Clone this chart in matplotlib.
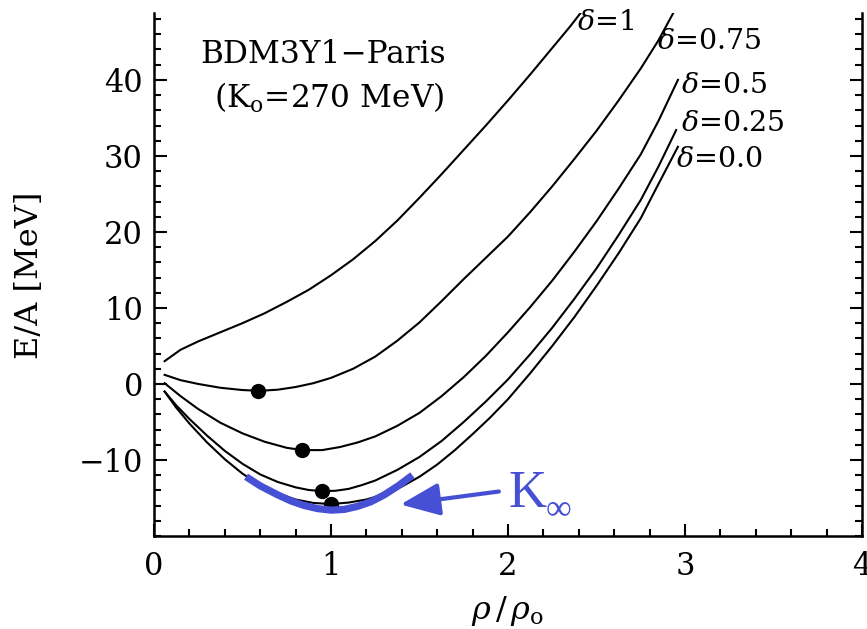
import matplotlib
matplotlib.use("Agg")
import matplotlib.pyplot as plt
from matplotlib.patches import FancyArrowPatch, ArrowStyle
from matplotlib.ticker import MultipleLocator

plt.rcParams['font.family'] = ['DejaVu Serif']
plt.rcParams['mathtext.fontset'] = 'dejavuserif'

# Energy per nucleon E/A [MeV] versus rho/rho0 for several asymmetries delta
x_d100 = [0.06, 0.15, 0.25, 0.375, 0.5, 0.625, 0.75, 0.875, 1.0, 1.125, 1.25,
          1.375, 1.5, 1.625, 1.75, 1.875, 2.0, 2.125, 2.25, 2.35, 2.45]
y_d100 = [3.0, 4.5, 5.6, 6.8, 8.0, 9.3, 10.8, 12.4, 14.3, 16.4, 18.8,
          21.5, 24.5, 27.6, 30.8, 34.0, 37.3, 40.7, 44.2, 47.0, 50.0]

x_d075 = [0.06, 0.15, 0.25, 0.375, 0.5, 0.6, 0.7, 0.8, 0.9, 1.0, 1.125, 1.25,
          1.375, 1.5, 1.625, 1.75, 1.875, 2.0, 2.125, 2.25, 2.375, 2.5, 2.625,
          2.75, 2.85, 2.95]
y_d075 = [1.2, 0.5, 0.0, -0.5, -0.8, -0.9, -0.75, -0.4, 0.1, 0.8, 2.0, 3.6,
          5.7, 8.1, 10.9, 13.8, 16.6, 19.4, 22.6, 26.0, 29.6, 33.3, 37.3,
          41.5, 45.2, 49.5]

x_d050 = [0.06, 0.15, 0.25, 0.375, 0.5, 0.625, 0.75, 0.84, 0.95, 1.05, 1.15,
          1.25, 1.375, 1.5, 1.625, 1.75, 1.875, 2.0, 2.125, 2.25, 2.375, 2.5,
          2.625, 2.75, 2.85, 2.96]
y_d050 = [0.1, -1.6, -3.3, -5.1, -6.5, -7.6, -8.4, -8.7, -8.7, -8.3, -7.7,
          -6.9, -5.5, -3.8, -1.6, 0.9, 3.7, 6.8, 10.1, 13.6, 17.4, 21.4,
          25.7, 30.2, 34.6, 40.0]

x_d025 = [0.06, 0.125, 0.2, 0.3, 0.4, 0.5, 0.6, 0.7, 0.8, 0.875, 0.95, 1.025,
          1.1, 1.175, 1.25, 1.375, 1.5, 1.625, 1.75, 1.875, 2.0, 2.125, 2.25,
          2.375, 2.5, 2.625, 2.75, 2.85, 2.95]
y_d025 = [-1.0, -2.8, -4.6, -6.8, -8.8, -10.5, -11.9, -12.9, -13.6, -13.95,
          -14.1, -14.05, -13.8, -13.3, -12.7, -11.3, -9.6, -7.5, -5.0, -2.3,
          0.6, 3.9, 7.4, 11.2, 15.2, 19.6, 24.2, 28.6, 33.4]

x_d000 = [0.06, 0.125, 0.2, 0.3, 0.4, 0.5, 0.6, 0.7, 0.8, 0.9, 1.0, 1.1, 1.2,
          1.3, 1.4, 1.5, 1.6, 1.7, 1.8, 1.9, 2.0, 2.125, 2.25, 2.375, 2.5,
          2.625, 2.75, 2.85, 2.96]
y_d000 = [-1.0, -3.1, -5.2, -7.7, -9.9, -11.8, -13.3, -14.4, -15.2, -15.65,
          -15.8, -15.6, -15.2, -14.5, -13.5, -12.2, -10.6, -8.7, -6.6, -4.4,
          -2.0, 1.4, 5.0, 8.8, 12.9, 17.2, 21.8, 26.3, 31.2]

# saturation points (minima)
x_sat = [0.59, 0.835, 0.95, 1.0]
y_sat = [-0.9, -8.7, -14.1, -15.8]

# curvature region near the symmetric-matter minimum
x_k = [0.52, 0.6, 0.7, 0.775, 0.85, 0.925, 1.0, 1.075, 1.15, 1.225, 1.3, 1.38, 1.46]
y_k = [-12.2, -13.4, -14.6, -15.4, -16.0, -16.4, -16.6, -16.5, -16.1, -15.5,
       -14.6, -13.4, -12.0]

curve_labels = [r'$\delta$=1', r'$\delta$=0.75', r'$\delta$=0.5', r'$\delta$=0.25', r'$\delta$=0.0']
label_x = [2.39, 2.84, 2.98, 2.98, 2.95]
label_y = [47.6, 45.0, 39.3, 34.3, 29.5]

BLUE = '#4650d4'

fig = plt.figure(figsize=(8.67, 6.29), dpi=100)
ax = fig.add_axes([154 / 867, 93 / 629, 708 / 867, 523 / 629])

curves = [(x_d100, y_d100), (x_d075, y_d075), (x_d050, y_d050),
          (x_d025, y_d025), (x_d000, y_d000)]
for xs, ys in curves:
    ax.plot(xs, ys, color='black', lw=1.5, solid_joinstyle='round')

ax.plot(x_sat, y_sat, 'o', color='black', ms=10, zorder=4)
ax.plot(x_k, y_k, color=BLUE, lw=5.2, solid_capstyle='butt',
        solid_joinstyle='round', zorder=5)

for txt, lx, ly in zip(curve_labels, label_x, label_y):
    ax.text(lx, ly, txt, fontsize=20.5, ha='left', va='center')

ax.text(0.955, 43.4, 'BDM3Y1\u2212Paris', fontsize=22.5, ha='center', va='center')
ax.text(0.99, 37.6, r'(K$_{\mathrm{o}}$=270 MeV)', fontsize=22.5, ha='center', va='center')

# arrow pointing to the curvature region
arrow = FancyArrowPatch((1.964, -14.1), (1.377, -15.9),
                        arrowstyle=ArrowStyle('-|>', head_length=24, head_width=10),
                        mutation_scale=1, lw=3, color=BLUE, zorder=6)
ax.add_patch(arrow)
ax.text(2.0, -16.2, 'K', fontsize=38, color=BLUE, family='Liberation Serif',
        ha='left', va='baseline')
ax.text(2.21, -17.6, '\u221e', fontsize=26, color=BLUE, family='Liberation Serif',
        ha='left', va='baseline')

ax.set_xlim(0, 4)
ax.set_ylim(-20, 48.8)
ax.xaxis.set_major_locator(MultipleLocator(1))
ax.xaxis.set_minor_locator(MultipleLocator(0.2))
ax.yaxis.set_minor_locator(MultipleLocator(2))
ax.set_yticks([-10, 0, 10, 20, 30, 40])
ax.set_yticklabels(['\u221210', '0', '10', '20', '30', '40'])
ax.tick_params(which='both', direction='in', right=True, top=False, width=1.5)
ax.tick_params(which='major', length=9, labelsize=22)
ax.tick_params(which='minor', length=5)
ax.tick_params(axis='x', which='major', pad=11)
ax.tick_params(axis='y', which='major', pad=8)
ax.spines['top'].set_visible(False)
for s in ['left', 'right', 'bottom']:
    ax.spines[s].set_linewidth(1.8)

fig.text(508 / 867, 1 - 611 / 629, r'$\rho\,/\,\rho_{\mathrm{o}}$', fontsize=23,
         ha='center', va='center')
fig.text(30 / 867, 1 - 275 / 629, 'E/A [MeV]', fontsize=23, rotation=90,
         ha='center', va='center')

fig.savefig('out.png', dpi=100)
